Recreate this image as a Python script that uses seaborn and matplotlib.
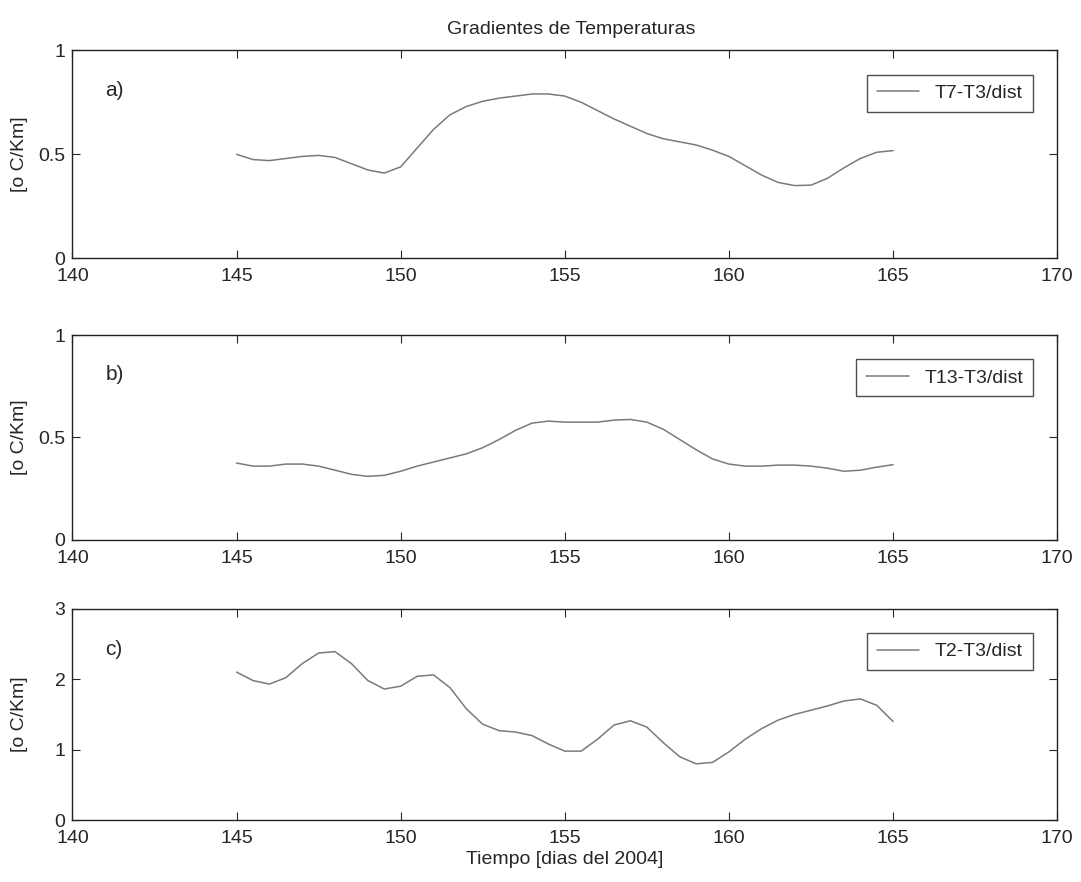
"""
Gradientes de temperaturas: tres paneles apilados (a, b, c).
"""
import numpy as np
import pandas as pd
import matplotlib
matplotlib.use('Agg')
import matplotlib.pyplot as plt
import seaborn as sns

# Tiempo [dias del 2004], cada medio dia
dias = [145.0, 145.5, 146.0, 146.5, 147.0, 147.5, 148.0, 148.5, 149.0, 149.5,
        150.0, 150.5, 151.0, 151.5, 152.0, 152.5, 153.0, 153.5, 154.0, 154.5,
        155.0, 155.5, 156.0, 156.5, 157.0, 157.5, 158.0, 158.5, 159.0, 159.5,
        160.0, 160.5, 161.0, 161.5, 162.0, 162.5, 163.0, 163.5, 164.0, 164.5,
        165.0]

t7_t3 = [0.50, 0.475, 0.47, 0.48, 0.49, 0.495, 0.485, 0.455, 0.425, 0.41,
         0.44, 0.53, 0.62, 0.69, 0.73, 0.755, 0.77, 0.78, 0.79, 0.79,
         0.78, 0.75, 0.71, 0.67, 0.635, 0.60, 0.575, 0.56, 0.545, 0.52,
         0.49, 0.445, 0.40, 0.365, 0.35, 0.352, 0.385, 0.435, 0.48, 0.51,
         0.518]

t13_t3 = [0.375, 0.36, 0.36, 0.37, 0.37, 0.36, 0.34, 0.32, 0.31, 0.315,
          0.335, 0.36, 0.38, 0.40, 0.42, 0.45, 0.49, 0.535, 0.57, 0.58,
          0.575, 0.575, 0.575, 0.585, 0.588, 0.575, 0.54, 0.49, 0.44, 0.395,
          0.37, 0.36, 0.36, 0.365, 0.365, 0.36, 0.35, 0.335, 0.34, 0.355,
          0.367]

t2_t3 = [2.10, 1.98, 1.93, 2.02, 2.22, 2.37, 2.39, 2.22, 1.98, 1.86,
         1.90, 2.04, 2.06, 1.88, 1.58, 1.36, 1.27, 1.25, 1.20, 1.08,
         0.98, 0.98, 1.15, 1.35, 1.41, 1.32, 1.10, 0.90, 0.80, 0.82,
         0.97, 1.15, 1.30, 1.42, 1.50, 1.56, 1.62, 1.69, 1.72, 1.63,
         1.40]

series = [
    ('a)', 'T7-T3/dist', t7_t3, [0, 0.5, 1], ['0', '0.5', '1'], 1),
    ('b)', 'T13-T3/dist', t13_t3, [0, 0.5, 1], ['0', '0.5', '1'], 1),
    ('c)', 'T2-T3/dist', t2_t3, [0, 1, 2, 3], ['0', '1', '2', '3'], 3),
]
xticks = [140, 145, 150, 155, 160, 165, 170]

sns.set_style('ticks')
plt.rcParams['font.family'] = ['Liberation Sans', 'DejaVu Sans']
plt.rcParams['xtick.direction'] = 'in'
plt.rcParams['ytick.direction'] = 'in'

fig = plt.figure(figsize=(10.81, 8.82), dpi=100)
boxes = [[0.067, 0.707, 0.911, 0.236],
         [0.067, 0.388, 0.911, 0.232],
         [0.067, 0.070, 0.911, 0.240]]

for box, (tag, name, vals, yt, ytl, ymax) in zip(boxes, series):
    ax = fig.add_axes(box)
    df = pd.DataFrame({'dia': dias, 'grad': vals})
    sns.lineplot(data=df, x='dia', y='grad', ax=ax, color='#7a7a7a',
                 linewidth=1.1, label=name)
    ax.set_xlim(140, 170)
    ax.set_ylim(0, ymax)
    ax.set_xticks(xticks)
    ax.set_xticklabels([str(v) for v in xticks], fontsize=14)
    ax.set_yticks(yt)
    ax.set_yticklabels(ytl, fontsize=14)
    ax.tick_params(top=True, right=True, length=6, width=0.8)
    ax.tick_params(axis='x', pad=7)
    ax.tick_params(axis='y', pad=5)
    for sp in ax.spines.values():
        sp.set_linewidth(1.0)
        sp.set_color('#222222')
    ax.set_ylabel('[o C/Km]', fontsize=14)
    ax.yaxis.set_label_coords(-0.045, 0.5)
    ax.set_xlabel('')
    ax.text(141.0, 0.78 * ymax, tag, fontsize=15)
    leg = ax.legend(loc='upper right', fontsize=14, frameon=True,
                    fancybox=False, handlelength=2.2, borderpad=0.5,
                    bbox_to_anchor=(0.985, 0.93))
    leg.get_frame().set_edgecolor('#222222')
    leg.get_frame().set_linewidth(1.0)

ax.set_xlabel('Tiempo [dias del 2004]', fontsize=14, labelpad=3)
fig.text(0.528, 0.962, 'Gradientes de Temperaturas', ha='center', fontsize=14)

fig.savefig('out.png', dpi=100)
